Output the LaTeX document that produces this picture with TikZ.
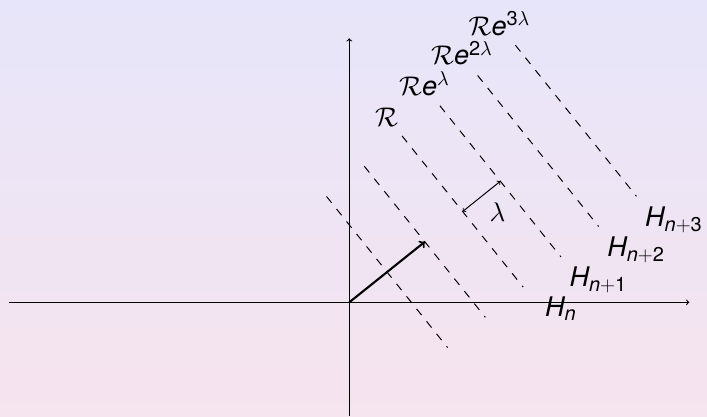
\documentclass[tikz,border=0pt]{standalone}
\usepackage{amsmath}
\usepackage{fontspec}
\setsansfont{TeX Gyre Heros}
\usetikzlibrary{calc}
\DeclareFontShape{OML}{cmm}{m}{it}{<->cmmi10}{}
\DeclareFontShape{OMS}{cmsy}{m}{n}{<->cmsy10}{}
\DeclareMathSizes{27}{27}{20}{15}
\newcommand\sfv[1]{\text{\sffamily\itshape #1}}
\newcommand\sfd[1]{\text{\sffamily #1}}
\definecolor{bgtop}{RGB}{231,229,250}
\definecolor{bgbot}{RGB}{246,228,238}
\tikzset{
  axisline/.style={line width=1.1pt,->},
  hline/.style={line width=1pt,dash pattern=on 8pt off 8pt},
  vecline/.style={line width=2.1pt,->},
  lamline/.style={line width=1pt,<->},
  lbl/.style={inner sep=0pt,font=\fontsize{27}{33}\selectfont},
}
\begin{document}
\begin{tikzpicture}[x=1pt,y=1pt]
\useasboundingbox (-349.3,-113.7) rectangle (357.7,302.3);
\shade[top color=bgtop,bottom color=bgbot] (-349.3,-113.7) rectangle (357.7,302.3);
\def\dd{48.4}
\coordinate (O) at (0,0);
\coordinate (xl) at (-340,0);
\coordinate (xr) at (340,0);
\coordinate (yb) at (0,-113.7);
\coordinate (yt) at (0,264);
\draw[axisline] (xl) -- (xr);
\draw[axisline] (yb) -- (yt);
\begin{scope}[rotate=38.7]
  \foreach \k in {1,...,6}{
    \coordinate (s\k) at ({\k*\dd},{2*\dd});
    \coordinate (e\k) at ({\k*\dd},{-2*\dd});
  }
  \coordinate (v) at ({2*\dd},0);
  \coordinate (la) at ({3*\dd},0);
  \coordinate (lb) at ({4*\dd},0);
\end{scope}
\foreach \k in {1,...,6}{\draw[hline] (s\k) -- (e\k);}
\draw[vecline] (O) -- (v);
\draw[lamline] (la) -- (lb);
\node[lbl] (lam) at ($(la)!0.5!(lb)+(16,-15.3)$) {$\lambda$};
\node[lbl,anchor=north west] (h0) at ($(e3)+(21.9,-9.7)$) {$\sfv{H}_{\sfv{n}}$};
\node[lbl,anchor=north west] (h1) at ($(e4)+(8.5,-9.8)$) {$\sfv{H}_{\sfv{n}+\sfd{1}}$};
\node[lbl,anchor=north west] (h2) at ($(e5)+(8.5,-9.8)$) {$\sfv{H}_{\sfv{n}+\sfd{2}}$};
\node[lbl,anchor=north west] (h3) at ($(e6)+(8.5,-10.5)$) {$\sfv{H}_{\sfv{n}+\sfd{3}}$};
\node[lbl,anchor=base] (r0) at ($(s3)+(-15.5,9.5)$) {$\mathcal{R}$};
\node[lbl,anchor=base] (r1) at ($(s4)+(-15.7,10.5)$) {$\mathcal{R}\sfv{e}^{\lambda}$};
\node[lbl,anchor=base] (r2) at ($(s5)+(-15.9,10.5)$) {$\mathcal{R}\sfv{e}^{\sfd{2}\lambda}$};
\node[lbl,anchor=base] (r3) at ($(s6)+(-16.1,10.2)$) {$\mathcal{R}\sfv{e}^{\sfd{3}\lambda}$};
\end{tikzpicture}
\end{document}
